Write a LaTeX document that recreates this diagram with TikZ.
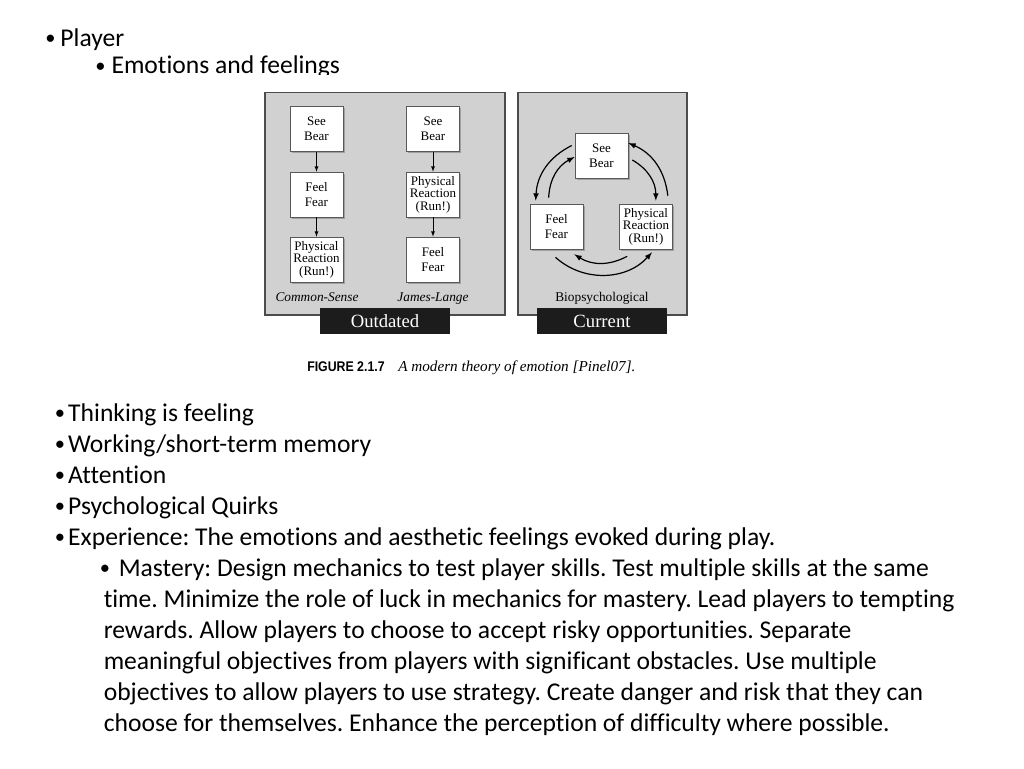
\documentclass[tikz,border=0pt]{standalone}
\usepackage{fontspec}
\usepackage{graphicx}
\setmainfont{Carlito}[Ligatures=NoCommon]
\newfontfamily\figserif{Liberation Serif}
\newfontfamily\figsans{Liberation Sans}
\usetikzlibrary{shadows}
\definecolor{panelgray}{gray}{0.82}
\definecolor{bargray}{gray}{0.11}
\tikzset{>=latex}
\tikzset{
  slide/.style = {anchor=base west, inner sep=0pt, font=\fontsize{19.2}{23}\selectfont\frenchspacing},
  panel/.style = {fill=panelgray, draw=black!70, line width=0.9pt},
  box/.style = {draw=black!65, fill=white, line width=0.5pt,
    minimum width=39.75pt, minimum height=33.75pt, inner sep=0pt, align=center,
    font=\figserif\fontsize{9.75}{11.2}\selectfont,
    drop shadow={shadow xshift=1.2pt, shadow yshift=-1.2pt, fill=black!50, opacity=0.6}},
  box3/.style = {box, font=\figserif\fontsize{9.75}{9.4}\selectfont},
  bar/.style = {fill=bargray, text=white, inner sep=0pt, anchor=base,
    minimum width=97.5pt, text height=14.25pt, text depth=5.25pt,
    font=\figserif\fontsize{14}{14}\selectfont},
  tag/.style = {inner sep=0pt, anchor=base, font=\figserif\fontsize{10}{12}\selectfont},
  ring/.style = {->, line width=0.9pt}
}
\newcommand\bul[1]{\makebox[#1][l]{\raisebox{1pt}{\scalebox{0.8}{•}}}}

\begin{document}
\begin{tikzpicture}[x=0.75pt,y=-0.75pt]
  \useasboundingbox[fill=white] (0,0) rectangle (1024,768);
  % heading
  \node[slide] (player) at (45,46) {\bul{11.4pt}Player};
  \node[slide] (emotions) at (95,73.5) {\bul{12.2pt}Emotions and feelings};
  % figure background
  \fill[white] (250,75) rectangle (720,382);
  % panels
  \draw[panel] (265,92.5) rectangle (505,315);
  \draw[panel] (518,92.5) rectangle (687,315);
  % common-sense
  \node[box] (cs1) at (316.5,129) {See\\Bear};
  \node[box] (cs2) at (316.5,194.5) {Feel\\Fear};
  \node[box3] (cs3) at (316.5,259.5) {Physical\\Reaction\\(Run!)};
  \draw[->] (cs1) -- (cs2);
  \draw[->] (cs2) -- (cs3);
  % james-lange
  \node[box] (jl1) at (433,129) {See\\Bear};
  \node[box3] (jl2) at (433,194.5) {Physical\\Reaction\\(Run!)};
  \node[box] (jl3) at (433,259.5) {Feel\\Fear};
  \draw[->] (jl1) -- (jl2);
  \draw[->] (jl2) -- (jl3);
  % biopsychological
  \node[box] (bio1) at (601.5,155.5) {See\\Bear};
  \node[box] (bio2) at (556.5,226.5) {Feel\\Fear};
  \node[box3] (bio3) at (646,226.5) {Physical\\Reaction\\(Run!)};
  \draw[ring] ([shift={(-3,-10)}]bio1.west) to[bend right=30] ([shift={(6,-3)}]bio2.north west);
  \draw[ring] ([shift={(19,-6)}]bio2.north west) to[bend left=30] ([shift={(0,1.5)}]bio1.west);
  \draw[ring] ([shift={(4,4.5)}]bio1.east) to[bend left=30] ([shift={(-17,-3)}]bio3.north east);
  \draw[ring] ([shift={(-5,-8)}]bio3.north east) to[bend right=30] ([shift={(0,-12.5)}]bio1.east);
  \draw[ring] ([shift={(8,7)}]bio3.south west) to[bend left=30] ([shift={(-9,5)}]bio2.south east);
  \draw[ring] ([shift={(-1,8)}]bio2.south) to[bend right=45] ([shift={(6,3)}]bio3.south);
  % labels
  \node[tag,font=\figserif\itshape\fontsize{10}{12}\selectfont] (common) at (317,301.5) {Common-Sense};
  \node[tag,font=\figserif\itshape\fontsize{10}{12}\selectfont] (james) at (433,301.5) {James-Lange};
  \node[tag] (bio) at (602,301.5) {Biopsychological};
  \node[bar] (outdated) at (385,327) {Outdated};
  \node[bar] (current) at (602,327) {Current};
  % caption
  \node[anchor=base west, inner sep=0pt] (fig) at (307,371)
    {\figsans\bfseries\fontsize{10.5}{12}\selectfont\scalebox{0.88}[1]{FIGURE 2.1.7}};
  \node[anchor=base west, inner sep=0pt] (caption) at (398,371)
    {\figserif\itshape\fontsize{11.4}{13}\selectfont A modern theory of emotion [Pinel07].};
  % list
  \foreach \txt [count=\i] in {Thinking is feeling, Working/short-term memory, Attention,
      Psychological Quirks, Experience: The emotions and aesthetic feelings evoked during play.} {
    \node[slide] (item\i) at (54.5,390+31*\i) {\bul{10.1pt}\txt};
  }
  % mastery
  \node[slide] (mastery1) at (99.5,576) {\bul{14.3pt}Mastery: Design mechanics to test player skills. Test multiple skills at the same};
  \foreach \txt [count=\i from 2] in {
      {time. Minimize the role of luck in mechanics for mastery. Lead players to tempting},
      {rewards. Allow players to choose to accept risky opportunities. Separate},
      {meaningful objectives from players with significant obstacles. Use multiple},
      {objectives to allow players to use strategy. Create danger and risk that they can},
      {choose for themselves. Enhance the perception of difficulty where possible.}} {
    \node[slide] (mastery\i) at (103.5,545+31*\i) {\txt};
  }
\end{tikzpicture}
\end{document}
